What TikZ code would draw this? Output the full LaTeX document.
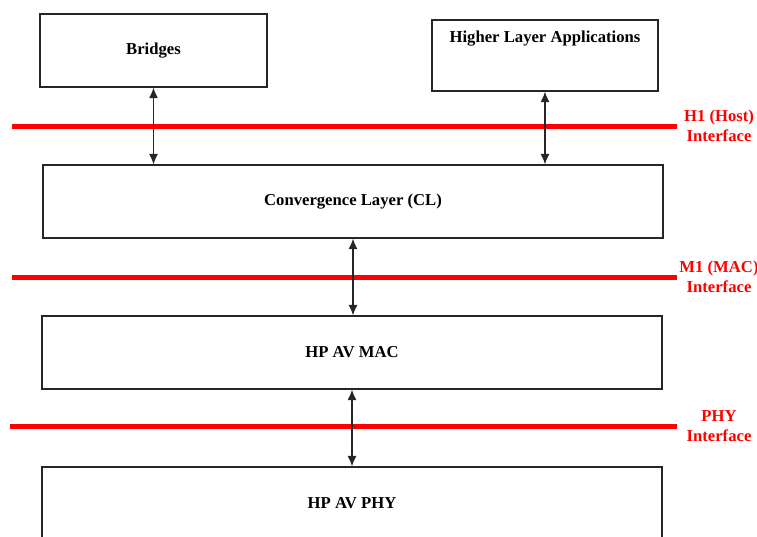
\documentclass[tikz,border=0pt]{standalone}
\usepackage{fontspec}
\setmainfont{Liberation Serif}
\usetikzlibrary{positioning, arrows.meta}

\tikzset{
    caja/.style={draw=black!85, line width=0.8pt, inner sep=0pt,
        font=\bfseries\fontsize{12.5}{15}\selectfont},
    flecha/.style={{Latex[length=8pt,width=6.75pt]}-{Latex[length=8pt,width=6.75pt]}, line width=0.9pt, black!85},
    interfaz/.style={red, line width=3.75pt},
    etiqueta/.style={text=red, align=center, inner sep=0pt,
        font=\bfseries\fontsize{12.5}{15}\selectfont}
}

\begin{document}
\begin{tikzpicture}[x=0.75pt, y=-0.75pt]
        \useasboundingbox (0,0) rectangle (757,536);
        % Cajas de las capas
        \node[caja, minimum width=170.25pt, minimum height=54.75pt] (bridges) at (153.5,50.5) {Bridges};
        \node[caja, minimum width=169.5pt, minimum height=53.25pt] (hla) at (545,55.5) {};
        \node[caja, below=8pt of hla.north, draw=none] (hlatxt) {Higher Layer Applications};
        \node[caja, minimum width=465pt, minimum height=54.75pt] (cl) at (353,201.5) {Convergence Layer (CL)};
        \node[caja, minimum width=465pt, minimum height=54.75pt] (mac) at (352,352.5) {HP AV MAC};
        \node[caja, minimum width=465pt, minimum height=54.75pt] (phy) at (352,503.5) {HP AV PHY};
        % Lineas rojas de las interfaces
        \foreach \nombre/\xi/\y/\texto in {h1/12/126/{H1 (Host)\\Interface},
                                            m1/12/277/{M1 (MAC)\\Interface},
                                            phyi/10/426/{PHY\\Interface}} {
            \coordinate (\nombre izq) at (\xi,\y);
            \coordinate (\nombre der) at (677,\y);
            \draw[interfaz] (\nombre izq) -- (\nombre der);
            \node[etiqueta] (\nombre txt) at (719,\y) {\texto};
        }
        % Flechas entre capas
        \draw[flecha] (bridges.south) -- (bridges.south |- cl.north);
        \draw[flecha] (hla.south) -- (hla.south |- cl.north);
        \draw[flecha] (cl.south) -- (cl.south |- mac.north);
        \draw[flecha] (mac.south) -- (mac.south |- phy.north);
    \end{tikzpicture}
\end{document}
